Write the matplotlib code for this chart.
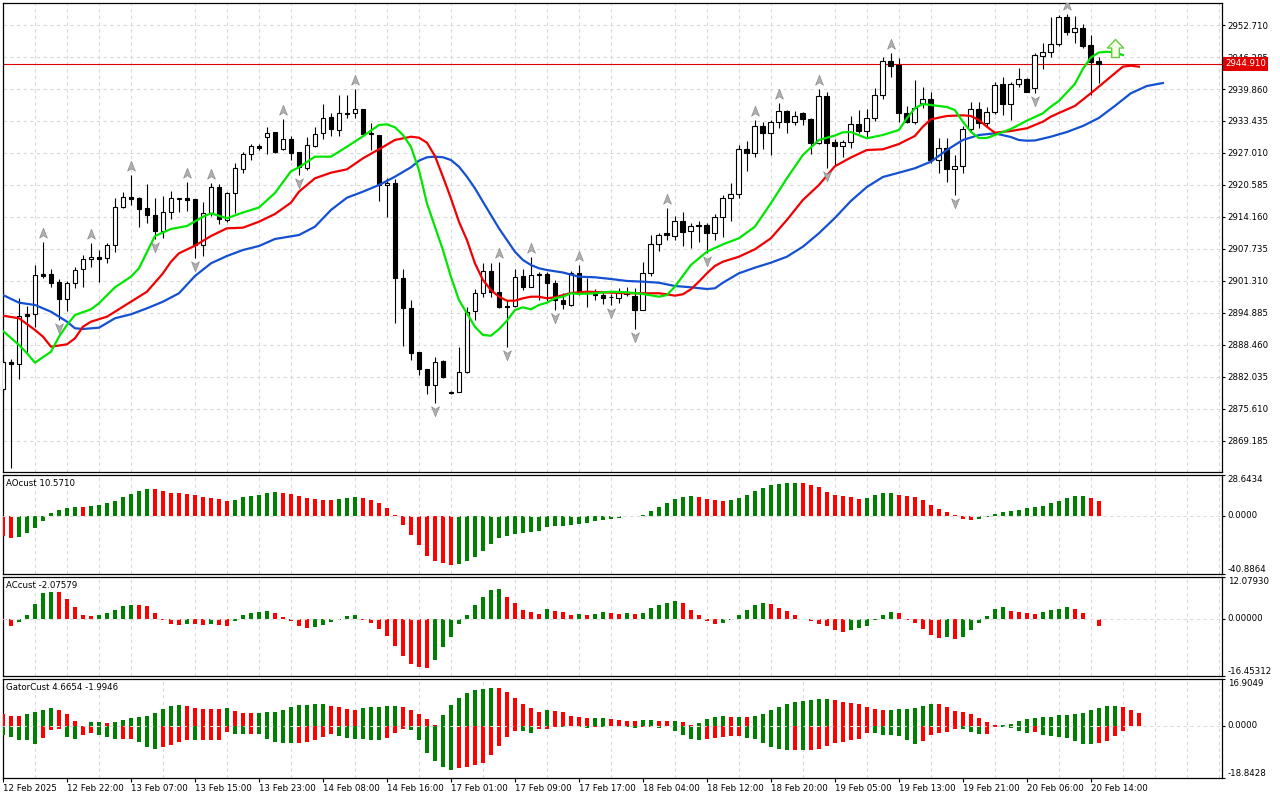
import numpy as np
import matplotlib

matplotlib.use("Agg")
import matplotlib.pyplot as plt
from matplotlib.path import Path
from matplotlib.transforms import offset_copy

plt.rcParams["font.family"] = ["DejaVu Sans"]

# H1 candles, bar 0 = 12 Feb 2025 13:00
opens = [2879.57, 2884.98, 2884.58, 2894.62, 2894.62, 2902.65, 2902.65, 2901.04, 2897.63, 2900.84,
         2903.65, 2905.66, 2906.06, 2905.86, 2908.47, 2916.23, 2918.23, 2917.91, 2915.90, 2914.50,
         2911.41, 2915.10, 2917.77, 2917.91, 2917.71, 2908.47, 2914.90, 2920.12, 2913.55, 2918.92,
         2923.73, 2926.75, 2928.41, 2930.16, 2931.16, 2927.75, 2929.76, 2927.15, 2924.06, 2928.47,
         2930.96, 2934.18, 2931.57, 2935.10, 2934.98, 2935.78, 2930.96, 2930.62, 2920.52, 2920.92,
         2901.85, 2895.82, 2886.99, 2883.63, 2880.42, 2885.24, 2879.08, 2878.96, 2883.10, 2895.28,
         2898.96, 2903.31, 2899.16, 2896.29, 2896.29, 2902.31, 2900.16, 2902.71, 2902.71, 2900.84,
         2897.49, 2896.49, 2902.84, 2898.84, 2898.70, 2898.50, 2898.15, 2897.83, 2898.70, 2898.36,
         2895.48, 2902.84, 2908.68, 2910.88, 2910.40, 2913.41, 2911.41, 2912.55, 2912.55, 2911.01,
         2914.22, 2917.91, 2918.71, 2927.75, 2926.95, 2932.49, 2930.96, 2933.17, 2935.51, 2933.17,
         2935.10, 2933.78, 2929.08, 2938.45, 2929.22, 2928.47, 2929.28, 2932.77, 2931.49, 2934.10,
         2938.59, 2945.42, 2944.68, 2934.98, 2933.29, 2936.99, 2937.91, 2925.60, 2927.95, 2923.73,
         2924.40, 2931.76, 2935.78, 2932.97, 2935.31, 2940.86, 2936.79, 2940.86, 2941.81, 2940.00,
         2946.49, 2947.35, 2948.89, 2954.26, 2951.36, 2952.05, 2948.69, 2945.48]
highs = [2886.00, 2885.58, 2897.83, 2896.35, 2904.52, 2909.14, 2903.72, 2901.65, 2901.37, 2904.18,
         2906.53, 2908.88, 2907.53, 2909.00, 2917.91, 2919.18, 2922.59, 2918.23, 2920.78, 2917.91,
         2918.37, 2919.38, 2918.04, 2921.13, 2917.80, 2917.11, 2920.92, 2920.72, 2919.24, 2924.94,
         2927.27, 2928.81, 2928.80, 2932.29, 2931.29, 2933.83, 2930.42, 2927.15, 2930.16, 2932.17,
         2936.79, 2934.98, 2938.65, 2938.65, 2939.80, 2935.90, 2933.09, 2930.62, 2921.93, 2921.73,
         2903.65, 2897.49, 2887.00, 2883.63, 2886.11, 2885.44, 2879.20, 2888.11, 2896.15, 2899.64,
         2904.86, 2904.98, 2905.18, 2897.49, 2903.68, 2903.68, 2906.19, 2903.18, 2903.18, 2901.51,
         2898.96, 2903.38, 2904.52, 2901.91, 2899.60, 2899.00, 2898.60, 2899.80, 2900.00, 2899.83,
         2905.18, 2910.55, 2910.90, 2915.90, 2914.34, 2915.23, 2912.90, 2913.30, 2912.90, 2914.80,
         2918.60, 2921.05, 2928.61, 2929.42, 2933.63, 2933.20, 2933.60, 2936.98, 2935.70, 2935.50,
         2935.30, 2934.00, 2939.80, 2939.32, 2929.80, 2929.60, 2934.44, 2935.64, 2935.78, 2939.99,
         2946.35, 2947.03, 2946.02, 2936.43, 2941.67, 2940.20, 2939.32, 2929.96, 2929.96, 2926.61,
         2932.43, 2937.31, 2937.31, 2936.31, 2941.33, 2942.33, 2941.30, 2944.02, 2942.00, 2947.00,
         2949.03, 2954.38, 2954.72, 2954.92, 2954.60, 2952.91, 2950.70, 2946.35]
lows = [2878.50, 2863.70, 2881.69, 2886.79, 2892.01, 2901.85, 2900.16, 2893.47, 2895.34, 2899.84,
        2900.16, 2904.18, 2901.17, 2904.98, 2907.13, 2916.03, 2916.57, 2912.21, 2913.01, 2909.68,
        2909.90, 2913.75, 2915.10, 2915.36, 2905.86, 2906.33, 2914.42, 2912.75, 2913.21, 2914.90,
        2923.00, 2925.60, 2927.60, 2926.81, 2927.07, 2927.60, 2925.60, 2922.59, 2923.59, 2928.30,
        2929.76, 2930.42, 2930.42, 2933.98, 2933.98, 2930.60, 2927.61, 2917.37, 2914.22, 2892.81,
        2888.25, 2885.44, 2882.50, 2878.61, 2876.75, 2881.90, 2878.60, 2878.96, 2882.80, 2893.47,
        2898.15, 2898.15, 2895.82, 2887.99, 2896.00, 2899.50, 2900.00, 2897.49, 2897.23, 2895.48,
        2895.60, 2896.20, 2898.50, 2896.15, 2897.49, 2896.63, 2896.40, 2896.90, 2898.30, 2891.61,
        2895.40, 2902.30, 2907.40, 2909.54, 2909.54, 2908.33, 2907.87, 2909.21, 2906.87, 2909.50,
        2910.20, 2913.35, 2918.00, 2923.45, 2926.30, 2927.88, 2926.63, 2931.93, 2930.96, 2932.60,
        2932.70, 2926.83, 2928.90, 2923.94, 2924.50, 2926.20, 2927.95, 2931.00, 2930.28, 2933.50,
        2937.92, 2942.33, 2933.29, 2933.00, 2932.80, 2936.00, 2925.00, 2922.93, 2921.25, 2918.57,
        2923.06, 2931.20, 2931.96, 2932.50, 2934.80, 2934.64, 2933.63, 2940.32, 2939.30, 2939.10,
        2943.81, 2946.35, 2948.40, 2950.80, 2949.16, 2948.00, 2938.65, 2941.00]
closes = [2884.99, 2884.64, 2894.28, 2894.28, 2902.45, 2902.37, 2900.84, 2897.63, 2900.84, 2903.51,
          2905.66, 2906.06, 2905.78, 2908.47, 2916.23, 2918.23, 2917.83, 2915.83, 2914.50, 2911.41,
          2915.10, 2917.91, 2917.91, 2917.63, 2908.53, 2914.90, 2920.12, 2913.70, 2918.92, 2923.94,
          2926.81, 2928.41, 2927.95, 2930.96, 2927.27, 2929.76, 2927.07, 2924.26, 2928.61, 2930.76,
          2933.98, 2931.77, 2935.10, 2934.90, 2935.78, 2930.82, 2930.76, 2920.58, 2921.04, 2901.85,
          2895.82, 2886.79, 2883.57, 2880.42, 2885.10, 2882.09, 2878.75, 2883.10, 2895.14, 2898.84,
          2903.31, 2899.16, 2896.02, 2896.09, 2902.17, 2900.16, 2902.51, 2902.51, 2900.84, 2897.49,
          2896.63, 2902.84, 2899.16, 2898.80, 2898.44, 2897.96, 2898.04, 2898.83, 2898.80, 2895.48,
          2902.84, 2908.68, 2910.54, 2910.54, 2913.41, 2911.21, 2912.35, 2912.35, 2911.01, 2914.22,
          2917.91, 2918.71, 2927.75, 2926.95, 2932.49, 2930.96, 2933.23, 2935.51, 2933.30, 2934.50,
          2933.78, 2929.08, 2938.45, 2929.08, 2928.47, 2929.22, 2932.77, 2931.49, 2933.98, 2938.59,
          2945.42, 2944.54, 2934.98, 2933.29, 2935.98, 2937.91, 2925.60, 2927.95, 2923.73, 2924.40,
          2931.76, 2935.78, 2932.97, 2935.18, 2940.66, 2936.79, 2940.86, 2941.81, 2939.32, 2946.63,
          2947.35, 2948.89, 2954.26, 2951.36, 2952.05, 2948.55, 2945.34, 2944.91]

# alligator lines as drawn (already shifted forward)
jaw_bars = [0, 2, 4, 6, 8, 9, 10, 12, 14, 16, 18, 20, 22, 24, 26, 28, 30, 32, 34, 37,
            39, 41, 43, 45, 47, 49, 51, 52, 53, 54, 55, 56, 57, 58, 59, 60, 61, 62, 63, 64,
            65, 66, 67, 68, 70, 72, 74, 76, 78, 80, 82, 84, 86, 88, 89, 90, 92, 94, 96, 98,
            100, 102, 104, 106, 108, 110, 112, 114, 116, 118, 120, 122, 124, 126, 127, 128, 129, 131, 133, 135,
            137, 139, 141, 143, 145]
jaw_vals = [2898.49, 2896.95, 2896.49, 2895.14, 2893.13, 2891.81, 2891.67, 2891.93, 2893.82, 2894.62,
            2895.82, 2897.15, 2898.84, 2902.31, 2904.86, 2906.33, 2907.53, 2908.33, 2909.74, 2910.54,
            2912.21, 2915.56, 2918.03, 2919.24, 2920.58, 2922.25, 2924.14, 2925.46, 2926.15, 2926.27,
            2926.15, 2925.60, 2924.26, 2922.25, 2919.92, 2917.23, 2914.56, 2911.89, 2909.54, 2907.19,
            2905.52, 2904.52, 2903.86, 2903.51, 2903.01, 2902.17, 2902.05, 2901.71, 2901.31, 2901.17,
            2900.96, 2900.30, 2900.04, 2899.70, 2899.84, 2900.96, 2902.85, 2903.98, 2904.98, 2906.18,
            2908.19, 2910.88, 2913.96, 2917.37, 2920.18, 2922.19, 2923.05, 2923.94, 2925.26, 2927.61,
            2929.62, 2930.62, 2930.96, 2930.22, 2929.62, 2929.48, 2929.52, 2930.28, 2931.22, 2932.43,
            2934.04, 2936.45, 2939.00, 2940.46, 2941.06]
teeth_bars = [0, 2, 4, 5, 6, 8, 9, 10, 11, 13, 14, 16, 18, 20, 21, 22, 24, 26, 28, 30,
              32, 34, 36, 37, 39, 41, 43, 45, 47, 49, 51, 52, 53, 54, 55, 56, 57, 58, 59, 60,
              61, 62, 63, 64, 65, 66, 67, 68, 69, 71, 73, 75, 78, 80, 82, 83, 84, 85, 86, 87,
              88, 89, 90, 92, 94, 96, 98, 100, 102, 104, 106, 108, 110, 112, 114, 115, 116, 118, 120, 121,
              122, 123, 124, 126, 128, 130, 131, 132, 134, 136, 138, 139, 140, 141, 142]
teeth_vals = [2894.34, 2893.82, 2891.47, 2890.12, 2888.11, 2888.59, 2889.80, 2892.13, 2893.13, 2894.14,
              2895.14, 2897.15, 2899.16, 2902.85, 2905.18, 2906.87, 2908.39, 2910.34, 2911.89, 2912.01,
              2913.21, 2914.76, 2917.03, 2919.24, 2921.93, 2923.05, 2923.73, 2925.94, 2927.75, 2929.62,
              2930.28, 2930.08, 2929.08, 2926.40, 2922.25, 2917.91, 2913.21, 2909.54, 2904.86, 2901.51,
              2899.50, 2898.15, 2897.35, 2897.35, 2897.83, 2898.15, 2898.15, 2897.83, 2898.03, 2898.90,
              2899.16, 2899.04, 2898.84, 2898.84, 2898.84, 2898.64, 2898.36, 2898.64, 2899.64, 2901.17,
              2902.85, 2904.32, 2905.18, 2906.18, 2907.67, 2909.88, 2913.56, 2917.57, 2920.58, 2924.34,
              2926.10, 2927.61, 2927.75, 2928.81, 2930.42, 2932.29, 2933.77, 2934.44, 2934.58, 2934.44,
              2933.63, 2932.29, 2931.08, 2931.42, 2931.97, 2933.29, 2934.30, 2935.04, 2936.45, 2939.00,
              2941.67, 2943.01, 2944.34, 2944.54, 2944.34]
lips_bars = [0, 2, 3, 4, 6, 7, 8, 9, 11, 12, 14, 16, 17, 18, 19, 21, 23, 25, 26, 28,
             30, 32, 34, 36, 37, 39, 41, 43, 45, 47, 48, 49, 50, 51, 52, 53, 54, 55, 56, 57,
             58, 59, 60, 61, 62, 63, 64, 65, 66, 67, 68, 69, 70, 71, 72, 74, 76, 78, 80, 81,
             82, 83, 84, 86, 88, 90, 92, 94, 96, 98, 100, 102, 104, 105, 106, 108, 110, 112, 113, 114,
             115, 116, 118, 119, 120, 121, 122, 123, 124, 126, 128, 130, 131, 132, 133, 134, 135, 136, 137, 138,
             139, 140]
lips_vals = [2891.27, 2888.46, 2886.79, 2884.90, 2887.11, 2890.12, 2892.47, 2894.48, 2895.62, 2896.83,
             2900.04, 2902.17, 2903.86, 2907.13, 2910.34, 2911.75, 2912.35, 2914.21, 2914.90, 2913.90,
             2915.06, 2916.06, 2918.98, 2923.33, 2924.14, 2926.27, 2926.27, 2928.27, 2930.36, 2932.63,
             2932.77, 2932.17, 2930.62, 2928.27, 2923.59, 2916.91, 2912.21, 2907.53, 2902.17, 2897.49,
             2894.82, 2892.13, 2890.46, 2890.32, 2891.61, 2893.33, 2895.48, 2896.02, 2895.62, 2896.49,
             2896.95, 2897.83, 2898.15, 2898.84, 2898.70, 2898.84, 2899.16, 2899.04, 2898.70, 2898.43,
             2898.15, 2898.49, 2900.16, 2904.52, 2907.19, 2908.67, 2909.88, 2912.21, 2916.91, 2921.93,
             2926.61, 2929.62, 2930.52, 2931.16, 2931.22, 2929.96, 2930.62, 2931.63, 2933.98, 2935.98,
             2936.85, 2936.65, 2936.24, 2935.64, 2933.29, 2931.28, 2930.02, 2930.02, 2930.62, 2931.83,
             2933.49, 2934.98, 2936.31, 2937.45, 2939.16, 2940.86, 2943.87, 2946.18, 2947.19, 2947.35,
             2947.19, 2946.69]

frac_up = [5, 11, 16, 23, 26, 35, 44, 62, 66, 72, 83, 94, 97, 102, 111, 133]
frac_dn = [7, 19, 24, 37, 54, 63, 69, 76, 79, 88, 103, 119, 129]
signal_bar, signal_price = 139, 2948.1
last_price = 2944.910

ao_vals = [-14.0, -15.5, -14.7, -12.4, -8.9, -3.5, 1.9, 4.0, 5.6, 6.1,
           6.0, 6.8, 7.7, 9.1, 10.3, 13.1, 15.2, 17.3, 18.7, 18.6,
           17.3, 15.9, 15.8, 15.0, 14.9, 13.1, 12.4, 11.7, 10.3, 11.0,
           13.1, 13.6, 14.5, 15.9, 16.6, 15.9, 15.0, 13.6, 12.4, 11.7,
           11.0, 10.9, 11.7, 12.4, 13.1, 12.4, 11.0, 8.9, 5.4, 0.3,
           -6.8, -13.8, -20.8, -27.9, -32.1, -33.5, -34.9, -34.2, -32.1, -28.6,
           -25.0, -20.1, -15.9, -14.5, -13.1, -12.4, -11.7, -11.0, -8.2, -7.5,
           -7.45, -6.8, -6.1, -5.4, -4.0, -3.3, -2.6, -1.9, -0.5, -0.2,
           0.4, 3.7, 5.9, 8.7, 11.5, 12.9, 13.6, 12.9, 11.5, 10.8,
           10.1, 10.8, 12.2, 14.3, 17.1, 19.2, 21.3, 22.0, 22.7, 22.75,
           22.7, 21.3, 19.9, 16.4, 14.3, 13.6, 12.9, 11.5, 12.2, 14.3,
           15.7, 15.75, 14.3, 13.8, 13.3, 11.0, 7.5, 4.7, 2.6, 0.3,
           -2.6, -3.0, -2.1, -0.7, 1.4, 2.8, 3.3, 4.0, 5.4, 6.3,
           7.0, 9.1, 10.5, 12.2, 13.8, 13.85, 12.4, 10.571]
ac_vals = [-0.4, -1.9, -0.8, 1.15, 4.3, 7.4, 7.8, 7.7, 5.8, 3.5,
           1.15, 0.9, 1.15, 1.7, 2.6, 3.7, 4.0, 3.95, 3.7, 1.7,
           -0.2, -1.4, -1.7, -1.4, -1.5, -1.7, -1.6, -1.7, -2.0, -0.5,
           1.15, 1.7, 2.0, 2.3, 1.7, 0.6, -0.5, -2.0, -2.6, -2.3,
           -1.7, -0.9, -0.2, 0.9, 1.15, -0.2, -1.15, -2.9, -4.9, -7.7,
           -10.6, -12.9, -14.0, -14.05, -11.9, -8.0, -5.1, -1.6, 1.25, 4.1,
           6.2, 8.2, 8.5, 6.4, 4.7, 2.7, 2.1, 1.5, 3.0, 2.4,
           2.1, 1.25, 1.3, 1.25, 1.55, 2.1, 1.8, 1.5, 1.8, 1.5,
           1.8, 3.2, 4.1, 4.7, 5.3, 4.7, 2.7, 1.0, -0.6, -1.5,
           -1.2, -0.4, 1.0, 2.7, 4.1, 4.7, 4.4, 3.2, 2.4, 1.25,
           -0.1, -0.6, -1.5, -2.1, -3.3, -3.9, -3.3, -2.7, -2.1, -0.4,
           1.25, 2.1, 1.8, -0.2, -1.15, -2.9, -4.6, -5.4, -5.3, -5.8,
           -5.1, -3.2, -1.05, 0.95, 2.9, 3.3, 2.3, 2.1, 1.8, 1.45,
           1.85, 2.6, 2.9, 3.3, 2.9, 1.8, -0.15, -2.07579]
gator_up = [4.2, 3.5, 3.45, 4.2, 4.9, 5.7, 6.6, 5.7, 4.2, 1.6,
            0.1, 1.3, 1.35, 1.0, 1.3, 2.0, 2.8, 3.1, 3.5, 4.6,
            6.0, 7.3, 7.4, 7.3, 6.4, 6.0, 5.95, 5.9, 6.4, 5.3,
            4.6, 4.55, 4.6, 4.9, 4.95, 5.7, 6.7, 7.5, 7.55, 7.8,
            7.85, 7.1, 6.7, 6.0, 5.7, 6.4, 6.7, 6.75, 7.1, 7.15,
            6.7, 5.7, 4.2, 2.4, 0.24, 3.9, 7.5, 10.0, 11.8, 13.1,
            13.25, 13.6, 13.55, 12.2, 10.0, 7.8, 6.4, 4.9, 5.7, 5.3,
            4.9, 3.5, 3.1, 2.8, 2.85, 2.9, 2.4, 2.0, 1.7, 1.65,
            2.0, 2.05, 1.7, 1.65, 1.7, 1.3, 0.4, 1.0, 2.4, 3.1,
            3.5, 3.1, 3.15, 3.1, 3.5, 4.2, 5.7, 6.7, 7.8, 8.5,
            8.9, 9.3, 9.6, 9.65, 9.3, 8.5, 8.2, 7.8, 6.7, 6.0,
            5.7, 5.75, 5.9, 6.0, 6.4, 7.1, 7.8, 7.75, 6.7, 5.5,
            4.9, 4.2, 2.8, 1.3, 0.15, 0.3, 0.6, 1.7, 2.4, 2.8,
            3.1, 3.15, 3.9, 3.95, 4.2, 4.6, 5.7, 6.4, 7.1, 7.15,
            6.7, 5.7, 4.6654]
gator_dn = [-3.4, -4.0, -5.2, -5.25, -6.6, -4.3, -1.6, -1.1, -4.0, -4.7,
            -3.4, -2.5, -3.4, -4.0, -4.7, -4.65, -4.6, -5.8, -7.6, -8.4,
            -7.6, -6.9, -5.8, -5.2, -5.25, -5.2, -5.15, -5.1, -2.2, -2.8,
            -3.1, -3.05, -3.1, -4.7, -5.8, -6.1, -6.15, -6.1, -5.8, -5.2,
            -4.0, -3.1, -3.6, -4.3, -4.7, -4.75, -5.2, -5.25, -4.3, -2.5,
            -1.1, -1.6, -5.2, -9.8, -12.6, -15.0, -15.8, -15.1, -15.0, -14.2,
            -13.4, -10.5, -7.3, -4.0, -1.9, -1.95, -2.5, -1.1, -1.05, -0.4,
            -0.45, -0.1, -0.4, -0.7, -0.4, -0.45, -0.05, -0.1, -0.4, -0.7,
            -0.6, -0.4, -0.7, -0.1, -1.8, -3.25, -4.7, -5.2, -4.7, -4.3,
            -4.0, -3.6, -3.55, -4.3, -4.7, -6.1, -7.6, -8.4, -8.8, -8.75,
            -8.8, -8.7, -8.2, -7.3, -6.1, -5.8, -5.2, -4.6, -2.5, -2.6,
            -3.25, -3.3, -3.6, -5.0, -6.4, -5.4, -3.3, -2.6, -2.2, -1.2,
            -1.25, -2.2, -3.1, -2.9, -0.5, -0.6, -0.9, -1.7, -2.5, -2.1,
            -3.2, -3.6, -4.0, -4.3, -5.4, -6.5, -6.6, -6.1, -5.4, -3.6,
            -1.9946]

time_labels = ["12 Feb 2025", "12 Feb 22:00", "13 Feb 07:00", "13 Feb 15:00", "13 Feb 23:00",
               "14 Feb 08:00", "14 Feb 16:00", "17 Feb 01:00", "17 Feb 09:00", "17 Feb 17:00",
               "18 Feb 04:00", "18 Feb 12:00", "18 Feb 20:00", "19 Feb 05:00", "19 Feb 13:00",
               "19 Feb 21:00", "20 Feb 06:00", "20 Feb 14:00"]
price_ticks = [2952.710 - 6.425 * k for k in range(14)]

GREEN, RED = "#008000", "#ff0000"
GRID = "#d9d9d9"
FS = 6.2


def rising_colors(vals, first):
    cols = [first]
    for a, b in zip(vals[:-1], vals[1:]):
        cols.append(GREEN if b > a else RED)
    return cols


if __name__ == "__main__":
    fig = plt.figure(figsize=(12.8, 8), dpi=100)

    def px_axes(x0, y0, x1, y1):
        return fig.add_axes([x0 / 1280, 1 - y1 / 800, (x1 - x0) / 1280, (y1 - y0) / 800])

    ax = px_axes(3, 3, 1222, 472)
    ax_ao = px_axes(3, 475, 1222, 574)
    ax_ac = px_axes(3, 577, 1222, 676)
    ax_gt = px_axes(3, 679, 1222, 778)

    for a in (ax, ax_ao, ax_ac, ax_gt):
        a.set_xlim(0.04, 152.4)
        a.set_xticks(range(0, 153, 4), minor=True)
        a.grid(True, which="minor", axis="x", color=GRID, ls=(0, (3, 3)), lw=0.8)
        a.set_axisbelow(True)
        a.yaxis.tick_right()
        a.tick_params(axis="y", labelsize=FS, length=2.5, width=0.8, pad=1.5)
        a.tick_params(axis="x", which="both", length=0, labelbottom=False)
        for s in a.spines.values():
            s.set_linewidth(0.9)

    # main chart
    x = np.arange(len(opens))
    o, h, l, c = (np.array(v) for v in (opens, highs, lows, closes))
    up = c >= o
    body_lo = np.minimum(o, c)
    body_h = np.maximum(np.abs(c - o), 0.12)
    ax.axhline(last_price, color="#dd0000", lw=0.8, zorder=2)
    ax.vlines(x, l, h, color="black", lw=0.8, zorder=3)
    ax.bar(x[up], body_h[up], bottom=body_lo[up], width=0.6,
           facecolor="white", edgecolor="black", lw=0.8, zorder=4)
    ax.bar(x[~up], body_h[~up], bottom=body_lo[~up], width=0.6,
           facecolor="black", edgecolor="black", lw=0.8, zorder=4)

    ax.plot(jaw_bars, jaw_vals, color="#1450d2", lw=1.6, zorder=5)
    ax.plot(teeth_bars, teeth_vals, color="#f00000", lw=1.6, zorder=5)
    ax.plot(lips_bars, lips_vals, color="#00e600", lw=1.6, zorder=5)

    # fractal arrows
    up_arrow = Path([(0, 1), (0.75, -0.9), (0, -0.4), (-0.75, -0.9), (0, 1)],
                    [Path.MOVETO, Path.LINETO, Path.LINETO, Path.LINETO, Path.CLOSEPOLY])
    dn_arrow = Path([(0, -1), (0.75, 0.9), (0, 0.4), (-0.75, 0.9), (0, -1)],
                    [Path.MOVETO, Path.LINETO, Path.LINETO, Path.LINETO, Path.CLOSEPOLY])
    tr_up = offset_copy(ax.transData, fig=fig, x=0, y=9, units="dots")
    tr_dn = offset_copy(ax.transData, fig=fig, x=0, y=-8, units="dots")
    ax.plot(frac_up, h[frac_up], ls="none", marker=up_arrow, ms=7.5, mfc="#b0b0b0",
            mec="#8a8a8a", mew=0.5, transform=tr_up, zorder=6)
    ax.plot(frac_dn, l[frac_dn], ls="none", marker=dn_arrow, ms=7.5, mfc="#b0b0b0",
            mec="#8a8a8a", mew=0.5, transform=tr_dn, zorder=6)

    block_arrow = Path([(0, 1), (0.9, 0.05), (0.42, 0.05), (0.42, -1), (-0.42, -1),
                        (-0.42, 0.05), (-0.9, 0.05), (0, 1)],
                       [Path.MOVETO] + [Path.LINETO] * 6 + [Path.CLOSEPOLY])
    ax.plot([signal_bar], [signal_price], ls="none", marker=block_arrow, ms=13,
            mfc="#f6ffe6", mec="#66cc44", mew=1.0, zorder=7)

    ax.set_ylim(2862.95, 2957.13)
    ax.set_yticks(price_ticks, [f"{p:.3f}" for p in price_ticks])
    ax.grid(True, which="major", axis="y", color=GRID, ls=(0, (3, 3)), lw=0.8)
    ax.annotate(f"{last_price:.3f}", xy=(1, last_price), xycoords=("axes fraction", "data"),
                xytext=(2.2, 0), textcoords="offset points", ha="left", va="center",
                color="white", fontsize=FS,
                bbox=dict(boxstyle="square,pad=0.25", fc="#e00000", ec="none"),
                annotation_clip=False, zorder=10)

    # oscillators
    ax_ao.bar(x, ao_vals, width=0.5, color=rising_colors(ao_vals, RED), zorder=3)
    ax_ac.bar(x, ac_vals, width=0.5, color=rising_colors(ac_vals, RED), zorder=3)
    gx_up = np.arange(len(gator_up))
    gx_dn = np.arange(len(gator_dn))
    ax_gt.bar(gx_up, gator_up, width=0.5, color=rising_colors(gator_up, RED), zorder=3)
    ax_gt.bar(gx_dn, gator_dn, width=0.5,
              color=rising_colors(list(np.abs(gator_dn)), GREEN), zorder=3)

    panels = [
        (ax_ao, -40.8864, 28.6434, ["-40.8864", "0.0000", "28.6434"], "AOcust 10.5710"),
        (ax_ac, -16.45312, 12.07930, ["-16.45312", "0.00000", "12.07930"], "ACcust -2.07579"),
        (ax_gt, -18.8428, 16.9049, ["-18.8428", "0.0000", "16.9049"], "GatorCust 4.6654 -1.9946"),
    ]
    for a, lo, hi, labels, title in panels:
        a.set_ylim(lo, hi)
        a.set_yticks([lo, 0.0, hi], labels)
        for lbl, va in zip(a.get_yticklabels(), ["bottom", "center", "top"]):
            lbl.set_va(va)
        a.axhline(0, color="#dcdcdc", ls=(0, (3, 3)), lw=0.8, zorder=4)
        a.text(0.0025, 0.955, title, transform=a.transAxes, ha="left", va="top", fontsize=FS)

    ax_gt.set_xticks(range(0, 8 * len(time_labels), 8), time_labels)
    ax_gt.tick_params(axis="x", which="major", length=3, width=0.8, pad=1.5,
                      labelsize=FS, labelbottom=True)
    for lbl in ax_gt.get_xticklabels():
        lbl.set_ha("left")

    fig.savefig("out.png", dpi=100, facecolor="white")
